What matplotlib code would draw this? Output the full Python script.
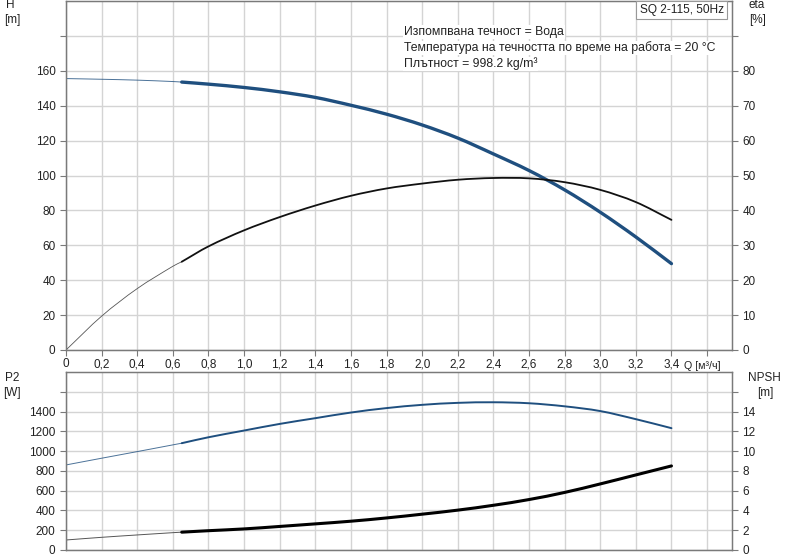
import matplotlib
matplotlib.use("Agg")
import matplotlib.pyplot as plt
from matplotlib.path import Path
from matplotlib.patches import PathPatch
import numpy as np

plt.rcParams["font.family"] = ["Liberation Sans", "DejaVu Sans"]

# flow points [m3/h]; 0.65 is where the operating range (thick line) starts
q = [0.0, 0.2, 0.4, 0.6, 0.65, 0.8, 1.0, 1.2, 1.4, 1.6, 1.8,
     2.0, 2.2, 2.4, 2.6, 2.8, 3.0, 3.2, 3.4]
head = [155.6, 155.2, 154.7, 153.9, 153.6, 152.4, 150.5, 148.0, 144.8, 140.3, 135.2,
        129.0, 121.5, 112.4, 102.9, 91.8, 79.0, 64.8, 49.5]
eta = [0.0, 9.7, 17.6, 24.0, 25.3, 29.7, 34.3, 38.1, 41.4, 44.2, 46.3,
       47.7, 48.8, 49.3, 49.2, 48.1, 45.9, 42.4, 37.3]
p2 = [860, 928, 995, 1063, 1080, 1140, 1208, 1275, 1333, 1390, 1435,
      1468, 1488, 1494, 1484, 1453, 1405, 1323, 1232]
npsh = [1.01, 1.28, 1.52, 1.75, 1.80, 1.95, 2.13, 2.38, 2.64, 2.91, 3.24,
        3.62, 4.03, 4.52, 5.10, 5.82, 6.68, 7.59, 8.50]

q_ticks = [0.0, 0.2, 0.4, 0.6, 0.8, 1.0, 1.2, 1.4, 1.6, 1.8, 2.0, 2.2, 2.4,
           2.6, 2.8, 3.0, 3.2, 3.4]
q_grid = q_ticks + [3.6]
h_ticks = [0, 20, 40, 60, 80, 100, 120, 140, 160, 180]
eta_ticks = [0, 10, 20, 30, 40, 50, 60, 70, 80, 90]
p2_ticks = [0, 200, 400, 600, 800, 1000, 1200, 1400, 1600]
npsh_ticks = [0, 2, 4, 6, 8, 10, 12, 14, 16]

info_lines = ["Изпомпвана течност = Вода",
              "Температура на течността по време на работа = 20 °C",
              "Плътност = 998.2 kg/m³"]
pump_name = "SQ 2-115, 50Hz"

BLUE = "#1f4f7f"
GRID = "#d4d4d4"
SPINE = "#7a7a7a"
TXT = "#222222"
FS = 8.5
split = q.index(0.65)

fig = plt.figure(figsize=(8, 5.6), dpi=100)
ax_h = fig.add_axes([0.0825, 0.375, 0.8325, 0.623])
ax_p = fig.add_axes([0.0825, 0.0179, 0.8325, 0.3178])


def smooth(ax, xs, ys, **kw):
    """Draw a curve through the points as a Catmull-Rom style bezier path."""
    x = np.asarray(xs, float)
    y = np.asarray(ys, float)
    n = len(x)
    verts = [(x[0], y[0])]
    codes = [Path.MOVETO]
    for i in range(n - 1):
        i0, i3 = max(i - 1, 0), min(i + 2, n - 1)
        h = x[i + 1] - x[i]
        m1 = (y[i + 1] - y[i0]) / (x[i + 1] - x[i0])
        m2 = (y[i3] - y[i]) / (x[i3] - x[i])
        verts += [(x[i] + h / 3, y[i] + m1 * h / 3),
                  (x[i + 1] - h / 3, y[i + 1] - m2 * h / 3),
                  (x[i + 1], y[i + 1])]
        codes += [Path.CURVE4] * 3
    ax.add_patch(PathPatch(Path(verts, codes), fill=False, capstyle="round", **kw))


def style(ax, yticks, ylim):
    ax.set_xlim(0, 3.74)
    ax.set_ylim(*ylim)
    ax.set_xticks(q_grid)
    ax.set_yticks(yticks)
    ax.grid(True, color=GRID, linewidth=1.0)
    ax.set_axisbelow(True)
    for s in ax.spines.values():
        s.set_color(SPINE)
        s.set_linewidth(1.0)
    ax.tick_params(colors=SPINE, labelcolor=TXT, labelsize=FS, length=4, width=0.8)


def labels_upto(ticks, last):
    return [str(t) if t <= last else "" for t in ticks]


# ---- top: head and efficiency ----
style(ax_h, h_ticks, (0, 200))
ax_h.set_yticklabels(labels_upto(h_ticks, 160))
ax_h.set_xticklabels([("%.1f" % t).replace(".", ",") if t > 0 else "0" for t in q_ticks] + [""])
ax_h.tick_params(axis="x", pad=2)

ax_e = ax_h.twinx()
ax_e.set_ylim(0, 100)
ax_e.set_yticks(eta_ticks)
ax_e.set_yticklabels(labels_upto(eta_ticks, 80))
ax_e.tick_params(colors=SPINE, labelcolor=TXT, labelsize=FS, length=4, width=0.8)
for s in ax_e.spines.values():
    s.set_color(SPINE)

smooth(ax_h, q[:split + 1], head[:split + 1], edgecolor=BLUE, lw=0.7, alpha=0.8)
smooth(ax_h, q[split:], head[split:], edgecolor=BLUE, lw=2.4)
smooth(ax_e, q[:split + 1], eta[:split + 1], edgecolor="#555555", lw=0.6)
smooth(ax_e, q[split:], eta[split:], edgecolor="#111111", lw=1.3)

fig.text(10 / 800, 1 - 5 / 560, "H", ha="center", va="center", fontsize=FS, color=TXT)
fig.text(12 / 800, 1 - 20 / 560, "[m]", ha="center", va="center", fontsize=FS, color=TXT)
fig.text(757 / 800, 1 - 5 / 560, "eta", ha="center", va="center", fontsize=FS, color=TXT)
fig.text(758 / 800, 1 - 20 / 560, "[%]", ha="center", va="center", fontsize=FS, color=TXT)
fig.text(684 / 800, 1 - 366 / 560, "Q [м³/ч]", ha="left", va="center", fontsize=FS - 0.8, color=TXT)

for i, line in enumerate(info_lines):
    fig.text(404 / 800, 1 - (32 + 16 * i) / 560, line,
             ha="left", va="center", fontsize=8.8, color=TXT,
             bbox=dict(facecolor="white", edgecolor="none", pad=0.6))
fig.text(724 / 800, 1 - 10 / 560, pump_name, ha="right", va="center", fontsize=8.6, color=TXT,
         bbox=dict(facecolor="white", edgecolor="#999999", linewidth=0.8, pad=2.5))

# ---- bottom: power and NPSH ----
style(ax_p, p2_ticks, (0, 1800))
ax_p.set_yticklabels(labels_upto(p2_ticks, 1400))
ax_p.set_xticklabels([])
ax_p.tick_params(axis="x", length=0)

ax_n = ax_p.twinx()
ax_n.set_ylim(0, 18)
ax_n.set_yticks(npsh_ticks)
ax_n.set_yticklabels(labels_upto(npsh_ticks, 14))
ax_n.tick_params(colors=SPINE, labelcolor=TXT, labelsize=FS, length=4, width=0.8)
for s in ax_n.spines.values():
    s.set_color(SPINE)

smooth(ax_p, q[:split + 1], p2[:split + 1], edgecolor=BLUE, lw=0.7, alpha=0.8)
smooth(ax_p, q[split:], p2[split:], edgecolor=BLUE, lw=1.4)
smooth(ax_n, q[:split + 1], npsh[:split + 1], edgecolor="#555555", lw=0.7)
smooth(ax_n, q[split:], npsh[split:], edgecolor="#000000", lw=2.2)

fig.text(12 / 800, 1 - 378 / 560, "P2", ha="center", va="center", fontsize=FS, color=TXT)
fig.text(12 / 800, 1 - 393 / 560, "[W]", ha="center", va="center", fontsize=FS, color=TXT)
fig.text(764 / 800, 1 - 378 / 560, "NPSH", ha="center", va="center", fontsize=FS, color=TXT)
fig.text(765 / 800, 1 - 393 / 560, "[m]", ha="center", va="center", fontsize=FS, color=TXT)

fig.savefig("out.png", dpi=100, facecolor="white")
